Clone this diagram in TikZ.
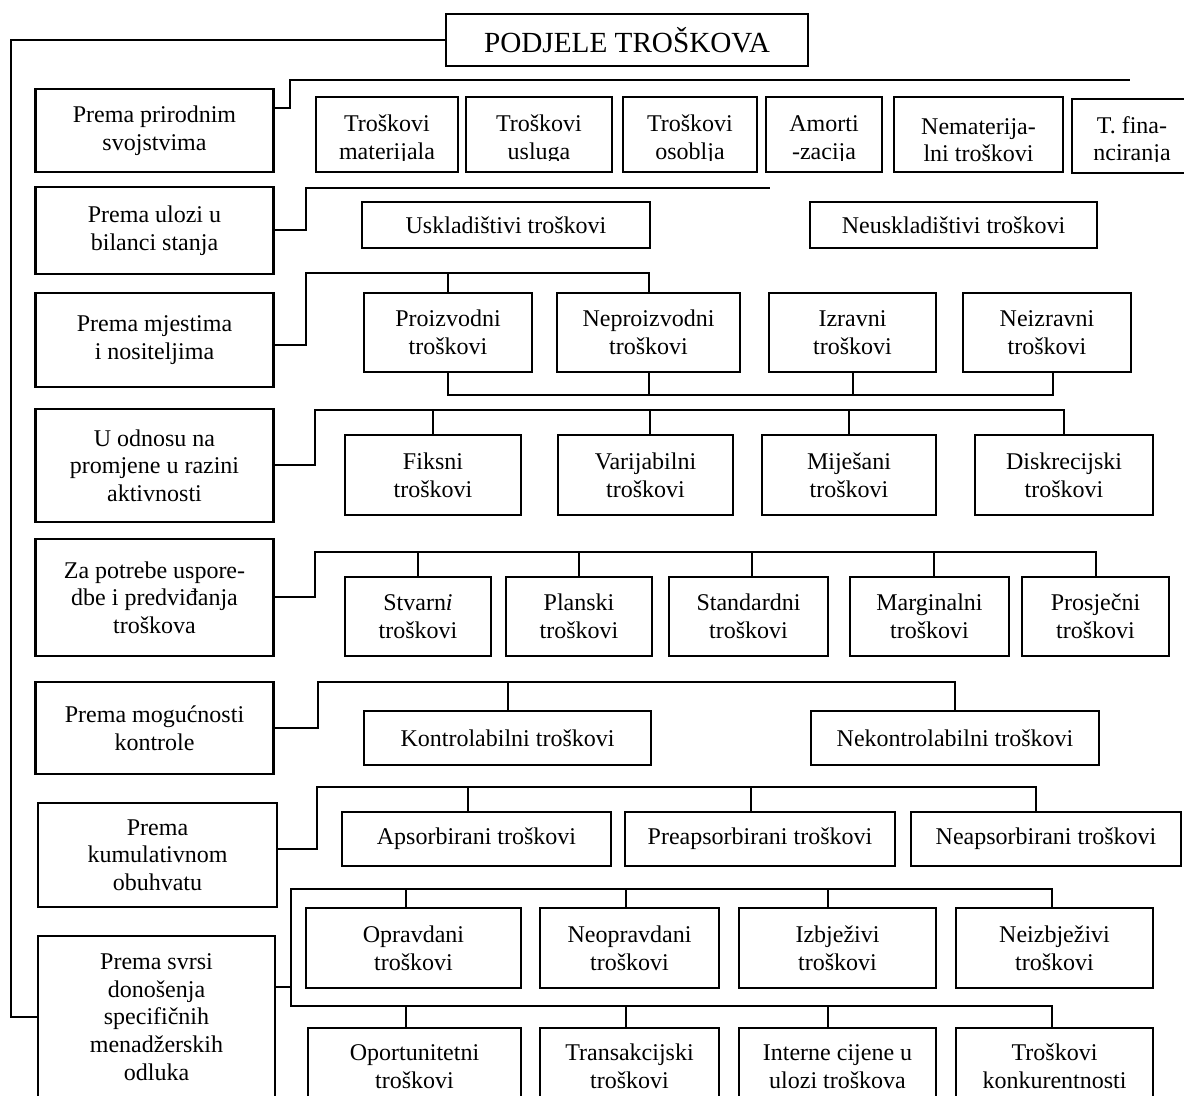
\documentclass[tikz,border=0pt]{standalone}
\usepackage{fontspec}
\setmainfont{Liberation Serif}
\usetikzlibrary{calc}

\newcommand{\toppad}{\rule{0pt}{13.7pt}}

\tikzset{
  box/.style={draw, line width=1.4pt, align=center, inner sep=1pt, outer sep=0pt,
    font=\fontsize{12}{13.8}\selectfont},
  cat/.style={box, minimum width=119pt},
  link/.style={line width=1pt},
  spine/.style={line width=1.4pt}
}

\begin{document}
\begin{tikzpicture}[x=0.5pt,y=-0.5pt]
\useasboundingbox (0,0) rectangle (1184,1096);
\clip (0,0) rectangle (1184,1096);

\node[box,font=\fontsize{14.6}{17}\selectfont,minimum width=181pt,minimum height=26pt] (title) at (627,40) {PODJELE TROŠKOVA};

% kriteriji
\node[cat,minimum height=41.5pt] (cat1) at (154.5,130.5) {Prema prirodnim\\svojstvima};
\node[cat,minimum height=43.5pt] (cat2) at (154.5,230.5) {Prema ulozi u\\bilanci stanja};
\node[cat,minimum height=47pt] (cat3) at (154.5,340) {Prema mjestima\\i nositeljima};
\node[cat,minimum height=56.5pt] (cat4) at (154.5,465.5) {U odnosu na\\promjene u razini\\aktivnosti};
\node[cat,minimum height=58.5pt] (cat5) at (154.5,597.5) {Za potrebe uspore-\\dbe i predviđanja\\troškova};
\node[cat,minimum height=46pt] (cat6) at (154.5,728) {Prema mogućnosti\\kontrole};
\node[cat,minimum width=119.5pt,minimum height=52pt] (cat7) at (157.5,855) {Prema\\kumulativnom\\obuhvatu};
\node[cat,minimum width=118.5pt,minimum height=81pt] (cat8) at (156.5,1017) {Prema svrsi\\donošenja\\specifičnih\\menadžerskih\\odluka};

\coordinate (sp) at (11,1017);
\draw[spine] (title.west) -| (sp) -- (cat8.west);

% prirodna svojstva
\node[box,minimum width=71pt,minimum height=37.5pt] (a1) at (387,134.5) {\toppad Troškovi\\materijala};
\node[box,minimum width=73pt,minimum height=37.5pt] (a2) at (539,134.5) {\toppad Troškovi\\usluga};
\node[box,minimum width=67pt,minimum height=37.5pt] (a3) at (690,134.5) {\toppad Troškovi\\osoblja};
\node[box,minimum width=58pt,minimum height=37.5pt] (a4) at (824,134.5) {\toppad Amorti\\-zacija};
\node[box,minimum width=84.5pt,minimum height=37.5pt] (a5) at (978.5,134.5) {\toppad Nematerija-\\lni troškovi};
\node[box,minimum width=60pt,minimum height=37pt] (a6) at (1132,136) {\toppad T. fina-\\nciranja};
\foreach \n in {a1,a2,a3,a4,a6}
  \fill[white] ([xshift=1pt,yshift=0.75pt]\n.south west) rectangle ([xshift=-1pt,yshift=5.6pt]\n.south east);
\coordinate (t1) at (290,80);
\coordinate (r1) at (1130,80);
\draw[link] ([yshift=11.25pt]cat1.east) -| (t1) -- (r1);

% bilanca stanja
\node[box,minimum width=144pt,minimum height=23pt] (u1) at (506,225) {Uskladištivi troškovi};
\node[box,minimum width=143.5pt,minimum height=23pt] (u2) at (953.5,225) {Neuskladištivi troškovi};
\coordinate (t2) at (306,188);
\coordinate (r2) at (770,188);
\draw[link] (cat2.east) -| (t2) -- (r2);

% mjesta i nositelji
\node[box,minimum width=84pt,minimum height=39.5pt] (b1) at (448,332.5) {Proizvodni\\troškovi};
\node[box,minimum width=91.5pt,minimum height=39.5pt] (b2) at (648.5,332.5) {Neproizvodni\\troškovi};
\node[box,minimum width=83.5pt,minimum height=39.5pt] (b3) at (852.5,332.5) {Izravni\\troškovi};
\node[box,minimum width=84pt,minimum height=39.5pt] (b4) at (1047,332.5) {Neizravni\\troškovi};
\coordinate (t3) at (306,273);
\draw[link] ([yshift=-2.5pt]cat3.east) -| (t3) -| (b2.north);
\draw[link] (b1.north) -- (b1.north |- t3);
\draw[link] (b1.south) -- ++(0,23) -| ([xshift=3pt]b4.south);
\draw[link] (b2.south) -- ++(0,23) (b3.south) -- ++(0,23);

% razina aktivnosti
\node[box,minimum width=88pt,minimum height=40pt] (c1) at (433,475) {Fiksni\\troškovi};
\node[box,minimum width=87.5pt,minimum height=40pt] (c2) at (645.5,475) {Varijabilni\\troškovi};
\node[box,minimum width=87pt,minimum height=40pt] (c3) at (849,475) {Miješani\\troškovi};
\node[box,minimum width=89pt,minimum height=40pt] (c4) at (1064,475) {Diskrecijski\\troškovi};
\coordinate (t4) at (315,410);
\draw[link] (cat4.east) -| (t4) -| (c4.north);
\foreach \n/\s in {c1/0pt,c2/2.25pt,c3/0pt}
  \draw[link] ([xshift=\s]\n.north) -- ([xshift=\s]\n.north |- t4);

% usporedba i predviđanje
\node[box,minimum width=73pt,minimum height=39.5pt] (d1) at (418,616.5) {Stvarn\textit{i}\\troškovi};
\node[box,minimum width=73pt,minimum height=39.5pt] (d2) at (579,616.5) {Planski\\troškovi};
\node[box,minimum width=79.5pt,minimum height=39.5pt] (d3) at (748.5,616.5) {Standardni\\troškovi};
\node[box,minimum width=79.5pt,minimum height=39.5pt] (d4) at (929.5,616.5) {Marginalni\\troškovi};
\node[box,minimum width=73.5pt,minimum height=39.5pt] (d5) at (1095.5,616.5) {Prosječni\\troškovi};
\coordinate (t5) at (315,552);
\draw[link] (cat5.east) -| (t5) -| (d5.north);
\foreach \n/\s in {d1/0pt,d2/0pt,d3/1.75pt,d4/2.25pt}
  \draw[link] ([xshift=\s]\n.north) -- ([xshift=\s]\n.north |- t5);

% mogućnost kontrole
\node[box,minimum width=143.5pt,minimum height=27pt] (e1) at (507.5,738) {Kontrolabilni troškovi};
\node[box,minimum width=144pt,minimum height=27pt] (e2) at (955,738) {Nekontrolabilni troškovi};
\coordinate (t6) at (318,682);
\draw[link] (cat6.east) -| (t6) -| (e2.north);
\draw[link] (e1.north) -- (e1.north |- t6);

% kumulativni obuhvat
\node[box,minimum width=134.5pt,minimum height=27pt] (f1) at (476.5,839) {Apsorbirani troškovi};
\node[box,minimum width=135pt,minimum height=27pt] (f2) at (760,839) {Preapsorbirani troškovi};
\node[box,minimum width=135pt,minimum height=27pt] (f3) at (1046,839) {Neapsorbirani troškovi};
\coordinate (t7) at (317,787);
\draw[link] ([yshift=3pt]cat7.east) -| (t7) -| ([xshift=-5pt]f3.north);
\foreach \n in {f1,f2}
  \draw[link] ([xshift=-4.5pt]\n.north) -- ([xshift=-4.5pt]\n.north |- t7);

% menadžerske odluke
\node[box,minimum width=107.5pt,minimum height=40pt] (g1) at (413.5,948) {Opravdani\\troškovi};
\node[box,minimum width=89.5pt,minimum height=40pt] (g2) at (629.5,948) {Neopravdani\\troškovi};
\node[box,minimum width=98.5pt,minimum height=40pt] (g3) at (837.5,948) {Izbježivi\\troškovi};
\node[box,minimum width=98.5pt,minimum height=40pt] (g4) at (1054.5,948) {Neizbježivi\\troškovi};
\node[box,minimum width=106.5pt,minimum height=38.5pt] (h1) at (414.5,1066.5) {Oportunitetni\\troškovi};
\node[box,minimum width=89.5pt,minimum height=38.5pt] (h2) at (629.5,1066.5) {Transakcijski\\troškovi};
\node[box,minimum width=98.5pt,minimum height=38.5pt] (h3) at (837.5,1066.5) {Interne cijene u\\ulozi troškova};
\node[box,minimum width=98.5pt,minimum height=38.5pt] (h4) at (1054.5,1066.5) {Troškovi\\konkurentnosti};
\coordinate (t8) at (291,889);
\coordinate (u8) at (291,1006);
\draw[link] ([yshift=15pt]cat8.east) -- ([yshift=15pt]cat8.east -| t8);
\draw[link] ([xshift=-1.25pt]g4.north) |- (t8) -- (u8) -| ([xshift=-1.25pt]h4.north);
\foreach \n/\s in {g1/-3.75pt,g2/-1.75pt,g3/-4.75pt}
  \draw[link] ([xshift=\s]\n.north) -- ([xshift=\s]\n.north |- t8);
\foreach \n/\s in {h1/-4.25pt,h2/-1.75pt,h3/-4.75pt}
  \draw[link] ([xshift=\s]\n.north) -- ([xshift=\s]\n.north |- u8);
\end{tikzpicture}
\end{document}
